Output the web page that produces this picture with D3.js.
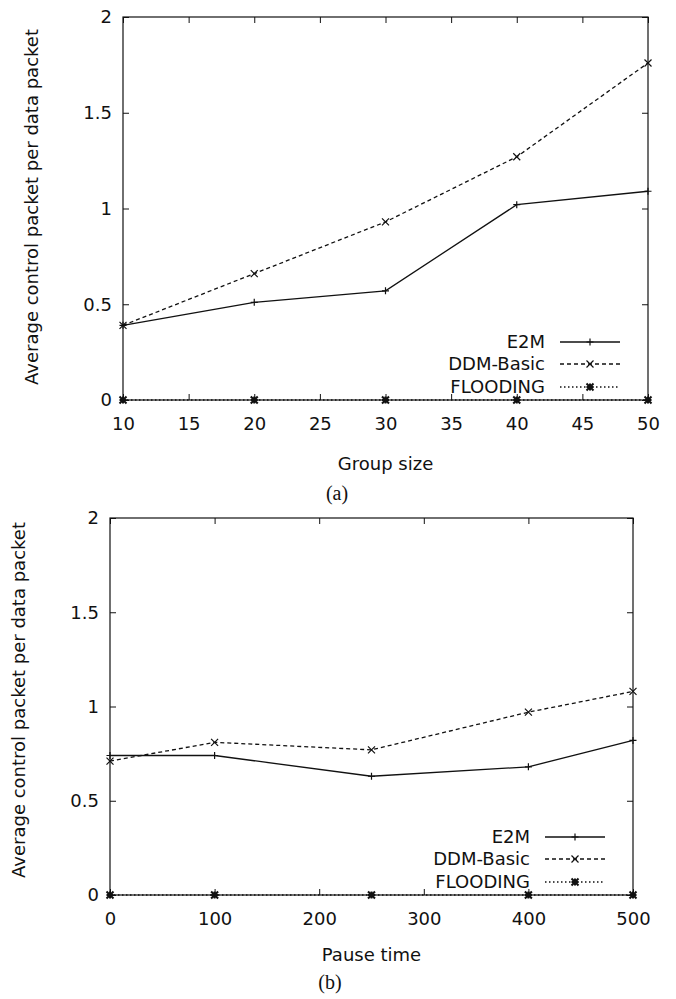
<!DOCTYPE html>
<html>
<head>
<meta charset="utf-8">
<script src="https://cdn.jsdelivr.net/npm/d3@7"></script>
<style>
  html, body { margin: 0; padding: 0; background: #fff; }
  svg text { font-family: "DejaVu Sans", sans-serif; fill: #111; }
  .caption { font-family: "Liberation Serif", serif; }
</style>
</head>
<body>
<div id="chart-container"></div>
<script>
/**************************************************
 * Data
 **************************************************/

const seriesNames = ["E2M", "DDM-Basic", "FLOODING"];

// (a) control overhead vs group size
const groupSizes = [10, 20, 30, 40, 50];
const e2mGroup = [0.39, 0.51, 0.57, 1.02, 1.09];
const ddmGroup = [0.39, 0.66, 0.93, 1.27, 1.76];
const floodGroup = [0, 0, 0, 0, 0];
const groupTicks = [10, 15, 20, 25, 30, 35, 40, 45, 50];

// (b) control overhead vs pause time
const pauseTimes = [0, 100, 250, 400, 500];
const e2mPause = [0.74, 0.74, 0.63, 0.68, 0.82];
const ddmPause = [0.71, 0.81, 0.77, 0.97, 1.08];
const floodPause = [0, 0, 0, 0, 0];
const pauseTicks = [0, 100, 200, 300, 400, 500];

const yTicks = [0, 0.5, 1, 1.5, 2];
const yTickLabels = ["0", "0.5", "1", "1.5", "2"];

/**************************************************
 * Rendering
 **************************************************/

const W = 676, H = 999;
const FS = 18; // main text size
const svg = d3.select("#chart-container")
  .append("svg")
  .attr("width", W)
  .attr("height", H);

// line style + marker per series (gnuplot look)
const styles = [
  { dash: null, marker: "plus" },
  { dash: "4,3", marker: "times" },
  { dash: "1.5,2.5", marker: "star" }
];

function markerPath(type, s) {
  const plus = `M${-s},0H${s}M0,${-s}V${s}`;
  const times = `M${-s},${-s}L${s},${s}M${-s},${s}L${s},${-s}`;
  if (type === "plus") return plus;
  if (type === "times") return times;
  return plus + times;
}

function drawPanel(p) {
  const g = svg.append("g");

  const x = d3.scaleLinear().domain(p.xDomain).range([p.left, p.right]);
  const y = d3.scaleLinear().domain([0, 2]).range([p.bottom, p.top]);

  // frame
  g.append("rect")
    .attr("x", p.left)
    .attr("y", p.top)
    .attr("width", p.right - p.left)
    .attr("height", p.bottom - p.top)
    .attr("fill", "none")
    .attr("stroke", "#111")
    .attr("stroke-width", 1.2);

  // bottom axis with labels, ticks pointing inward
  const xb = g.append("g")
    .attr("transform", `translate(0,${p.bottom})`)
    .call(d3.axisBottom(x).tickValues(p.xTicks).tickSizeInner(-6).tickSizeOuter(0).tickPadding(17).tickFormat(d3.format("d")));
  // top mirror ticks
  const xt = g.append("g")
    .attr("transform", `translate(0,${p.top})`)
    .call(d3.axisTop(x).tickValues(p.xTicks).tickSizeInner(-6).tickSizeOuter(0).tickFormat(""));
  // left axis with labels
  const yl = g.append("g")
    .attr("transform", `translate(${p.left},0)`)
    .call(d3.axisLeft(y).tickValues(yTicks).tickSizeInner(-6).tickSizeOuter(0).tickPadding(11)
      .tickFormat((d, i) => yTickLabels[i]));
  // right mirror ticks
  const yr = g.append("g")
    .attr("transform", `translate(${p.right},0)`)
    .call(d3.axisRight(y).tickValues(yTicks).tickSizeInner(-6).tickSizeOuter(0).tickFormat(""));

  [xb, xt, yl, yr].forEach(a => {
    a.select(".domain").remove();
    a.attr("font-size", FS).attr("font-family", "DejaVu Sans");
    a.selectAll("line").attr("stroke", "#111").attr("stroke-width", 1);
    a.selectAll("text").attr("fill", "#111");
  });

  // axis titles
  g.append("text")
    .attr("x", (p.left + p.right) / 2)
    .attr("y", p.bottom + p.titleOffset)
    .attr("text-anchor", "middle")
    .attr("font-size", FS)
    .text(p.xTitle);

  g.append("text")
    .attr("transform", "rotate(-90)")
    .attr("x", -p.yTitleCenter)
    .attr("y", p.left - 85)
    .attr("text-anchor", "middle")
    .attr("font-size", FS)
    .text("Average control packet per data packet");

  // sub-caption (a) / (b)
  g.append("text")
    .attr("class", "caption")
    .attr("x", p.captionX)
    .attr("y", p.bottom + p.captionOffset)
    .attr("text-anchor", "middle")
    .attr("font-size", 20)
    .text(p.caption);

  // series
  const line = d3.line().x(d => x(d[0])).y(d => y(d[1]));
  p.series.forEach((vals, si) => {
    const pts = p.xs.map((v, i) => [v, vals[i]]);
    g.append("path")
      .datum(pts)
      .attr("d", line)
      .attr("fill", "none")
      .attr("stroke", "#111")
      .attr("stroke-width", 1.3)
      .attr("stroke-dasharray", styles[si].dash);

    g.selectAll(null)
      .data(pts)
      .enter()
      .append("path")
      .attr("transform", d => `translate(${x(d[0])},${y(d[1])})`)
      .attr("d", markerPath(styles[si].marker, 3.5))
      .attr("fill", "none")
      .attr("stroke", "#111")
      .attr("stroke-width", si === 2 ? 2 : 1.2);
  });

  // legend
  const lg = g.append("g");
  seriesNames.forEach((name, si) => {
    const ly = p.bottom - [58, 36, 13][si];
    lg.append("text")
      .attr("x", p.right - 103)
      .attr("y", ly + 6)
      .attr("text-anchor", "end")
      .attr("font-size", FS)
      .text(name);
    lg.append("line")
      .attr("x1", p.right - 88)
      .attr("x2", p.right - 28)
      .attr("y1", ly)
      .attr("y2", ly)
      .attr("stroke", "#111")
      .attr("stroke-width", 1.3)
      .attr("stroke-dasharray", styles[si].dash);
    lg.append("path")
      .attr("transform", `translate(${p.right - 58},${ly})`)
      .attr("d", markerPath(styles[si].marker, 3.5))
      .attr("fill", "none")
      .attr("stroke", "#111")
      .attr("stroke-width", si === 2 ? 2 : 1.2);
  });
}

drawPanel({
  left: 123, right: 648, top: 17, bottom: 400,
  xDomain: [10, 50], xTicks: groupTicks, xs: groupSizes,
  series: [e2mGroup, ddmGroup, floodGroup],
  xTitle: "Group size", titleOffset: 70,
  yTitleCenter: 207,
  caption: "(a)", captionX: 337, captionOffset: 100
});

drawPanel({
  left: 110, right: 633, top: 518, bottom: 895,
  xDomain: [0, 500], xTicks: pauseTicks, xs: pauseTimes,
  series: [e2mPause, ddmPause, floodPause],
  xTitle: "Pause time", titleOffset: 66,
  yTitleCenter: 700,
  caption: "(b)", captionX: 330, captionOffset: 94
});
</script>
</body>
</html>
